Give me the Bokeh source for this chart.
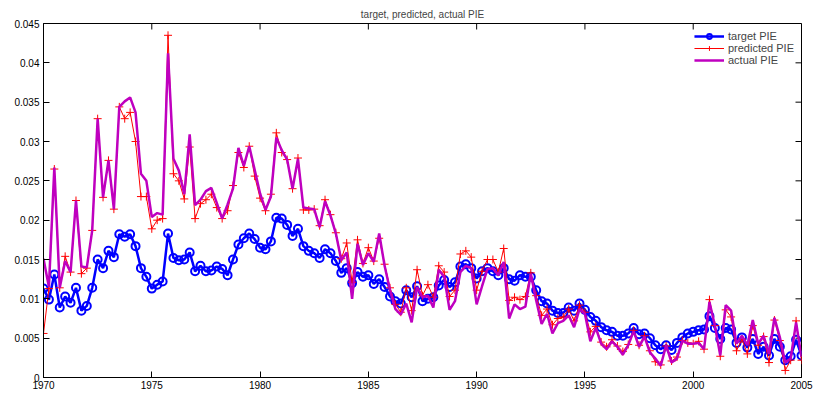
import numpy as np
from bokeh.plotting import figure
from bokeh.models import LinearAxis, FixedTicker, Legend, LegendItem, Range1d
from bokeh.embed import file_html
from bokeh.resources import INLINE

target_pie = [
    0.0113, 0.0099, 0.0131, 0.0089, 0.0103, 0.0095, 0.0114, 0.0085, 0.0091, 0.0114,
    0.0150, 0.0139, 0.0161, 0.0153, 0.0182, 0.0179, 0.0182, 0.0167, 0.0139, 0.0128,
    0.0113, 0.0118, 0.0122, 0.0183,
    0.0152, 0.0149, 0.0150, 0.0159, 0.0135, 0.0142, 0.0135, 0.0136, 0.0141, 0.0138,
    0.0130, 0.0150, 0.0169, 0.0177, 0.0183, 0.0176, 0.0165, 0.0163, 0.0173, 0.0203,
    0.0202, 0.0194, 0.0180, 0.0189, 0.0167, 0.0161, 0.0158, 0.0152, 0.0163, 0.0158,
    0.0148, 0.0133, 0.0139, 0.0120, 0.0134, 0.0128, 0.0130, 0.0119, 0.0125, 0.0115,
    0.0103, 0.0097, 0.0094, 0.0111, 0.0102, 0.0116, 0.0097, 0.0100, 0.0102, 0.0117,
    0.0124, 0.0115, 0.0121, 0.0141, 0.0144, 0.0139, 0.0126, 0.0135, 0.0139, 0.0135,
    0.0130, 0.0139, 0.0125, 0.0123, 0.0130, 0.0128, 0.0128, 0.0111, 0.0097, 0.0094,
    0.0085, 0.0082, 0.0082, 0.0089, 0.0085, 0.0094, 0.0086, 0.0077, 0.0072, 0.0064,
    0.0060,
    0.0058, 0.0053, 0.0053, 0.0056, 0.0063, 0.0055, 0.0056, 0.0050, 0.0041, 0.0036,
    0.0041, 0.0035, 0.0044, 0.0051, 0.0056,
    0.0058, 0.0060, 0.0061, 0.0078, 0.0063, 0.0049, 0.0063, 0.0061, 0.0044, 0.0051,
    0.0038, 0.0049, 0.0030, 0.0039, 0.0028, 0.0049, 0.0039, 0.0022, 0.0027, 0.0048,
    0.0028,
]

predicted_pie = [
    0.0056, 0.0113, 0.0265, 0.0114, 0.0154, 0.0134, 0.0225, 0.0132, 0.0139, 0.0187,
    0.0329, 0.0229, 0.0276, 0.0214, 0.0344, 0.0329, 0.0337, 0.0300, 0.0230, 0.0230,
    0.0189, 0.0200, 0.0202, 0.0435,
    0.0259, 0.0250, 0.0227, 0.0293, 0.0202, 0.0221, 0.0226, 0.0233, 0.0216, 0.0202,
    0.0212, 0.0244, 0.0286, 0.0267, 0.0294, 0.0256, 0.0228, 0.0212, 0.0233, 0.0311,
    0.0286, 0.0277, 0.0240, 0.0279, 0.0213, 0.0213, 0.0214, 0.0193, 0.0226, 0.0207,
    0.0184, 0.0151, 0.0171, 0.0121, 0.0175, 0.0145, 0.0165, 0.0148, 0.0177, 0.0144,
    0.0114, 0.0093, 0.0083, 0.0114, 0.0085, 0.0137, 0.0104, 0.0118, 0.0102, 0.0142,
    0.0134, 0.0103, 0.0111, 0.0157, 0.0161, 0.0153, 0.0111, 0.0135, 0.0150, 0.0150,
    0.0134, 0.0164, 0.0098, 0.0102, 0.0099, 0.0103, 0.0133, 0.0104, 0.0079, 0.0087,
    0.0067, 0.0075, 0.0077, 0.0087, 0.0072, 0.0092, 0.0083, 0.0058, 0.0065, 0.0045,
    0.0039,
    0.0048, 0.0040, 0.0033, 0.0042, 0.0060, 0.0041, 0.0053, 0.0034, 0.0020, 0.0016,
    0.0040, 0.0021, 0.0026, 0.0047, 0.0044,
    0.0043, 0.0046, 0.0036, 0.0099, 0.0066, 0.0027, 0.0086, 0.0077, 0.0034, 0.0049,
    0.0030, 0.0066, 0.0041, 0.0052, 0.0019, 0.0073, 0.0047, 0.0009, 0.0022, 0.0072,
    0.0022,
]

actual_pie = [
    0.0151, 0.0115, 0.0267, 0.0114, 0.0148, 0.0134, 0.0225, 0.0141, 0.0140, 0.0187,
    0.0329, 0.0229, 0.0276, 0.0214, 0.0344, 0.0351, 0.0356, 0.0337, 0.0259, 0.0250,
    0.0204, 0.0209, 0.0207, 0.0412,
    0.0278, 0.0263, 0.0233, 0.0309, 0.0219, 0.0226, 0.0237, 0.0241, 0.0222, 0.0202,
    0.0220, 0.0240, 0.0292, 0.0269, 0.0294, 0.0264, 0.0234, 0.0213, 0.0230, 0.0305,
    0.0289, 0.0277, 0.0240, 0.0278, 0.0216, 0.0215, 0.0214, 0.0191, 0.0224, 0.0206,
    0.0183, 0.0149, 0.0159, 0.0100, 0.0170, 0.0143, 0.0158, 0.0147, 0.0183, 0.0142,
    0.0111, 0.0087, 0.0080, 0.0094, 0.0070, 0.0115, 0.0102, 0.0104, 0.0089, 0.0137,
    0.0128, 0.0086, 0.0097, 0.0134, 0.0142, 0.0139, 0.0093, 0.0116, 0.0138, 0.0139,
    0.0130, 0.0147, 0.0075, 0.0093, 0.0087, 0.0090, 0.0132, 0.0098, 0.0068, 0.0081,
    0.0056, 0.0069, 0.0072, 0.0079, 0.0064, 0.0087, 0.0081, 0.0046, 0.0063, 0.0043,
    0.0036,
    0.0046, 0.0039, 0.0029, 0.0041, 0.0059, 0.0039, 0.0052, 0.0032, 0.0024, 0.0015,
    0.0041, 0.0019, 0.0024, 0.0047, 0.0043,
    0.0043, 0.0044, 0.0036, 0.0096, 0.0066, 0.0028, 0.0092, 0.0085, 0.0043, 0.0053,
    0.0041, 0.0073, 0.0043, 0.0053, 0.0030, 0.0076, 0.0051, 0.0019, 0.0024, 0.0070,
    0.0026,
]

start_year = 1970
quarters = np.arange(len(target_pie))
years = start_year + quarters / 4.0

x_ticks = [1970, 1975, 1980, 1985, 1990, 1995, 2000, 2005]
y_ticks = [0, 0.005, 0.01, 0.015, 0.02, 0.025, 0.03, 0.035, 0.04, 0.045]
y_tick_labels = ["0", "0.005", "0.01", "0.015", "0.02", "0.025", "0.03", "0.035", "0.04", "0.045"]

FONT = "Liberation Sans"
FS = "10px"

X0, X1 = 1970, 2005
Y0, Y1 = 0, 0.045
W, H = 817, 395
BL, BR, BT, BB = 43, 16, 23, 18
TICK = 6

p = figure(width=W, height=H, output_backend="svg", toolbar_location=None,
           x_range=Range1d(X0, X1), y_range=Range1d(Y0, Y1),
           min_border_left=BL, min_border_right=BR, min_border_top=BT, min_border_bottom=BB,
           x_axis_location=None, y_axis_location=None)
p.title.text = "target, predicted, actual PIE"
p.title.align = "center"
p.title.text_font = FONT
p.title.text_font_size = FS
p.title.text_font_style = "normal"
p.title.standoff = 7
p.grid.visible = False
p.outline_line_color = "black"
p.outline_line_width = 1
p.background_fill_color = "white"
p.border_fill_color = "white"

def make_axis(loc, ticks, labels=None, standoff=3):
    ax = LinearAxis(ticker=FixedTicker(ticks=ticks))
    ax.major_tick_in = TICK
    ax.major_tick_out = 0
    ax.minor_tick_in = 0
    ax.minor_tick_out = 0
    ax.axis_line_color = "black"
    ax.major_tick_line_color = "black"
    ax.major_label_text_font = FONT
    ax.major_label_text_font_size = FS
    ax.major_label_text_color = "black"
    ax.major_label_standoff = standoff
    if labels is not None:
        ax.major_label_overrides = {t: l for t, l in zip(ticks, labels)}
    p.add_layout(ax, loc)
    return ax

make_axis("below", x_ticks, standoff=3)
make_axis("left", y_ticks, y_tick_labels, standoff=4)

# mirrored inward ticks on top and right frame edges (MATLAB box style)
frame_w = W - BL - BR
frame_h = H - BT - BB
dy = (Y1 - Y0) * TICK / frame_h
dx = (X1 - X0) * TICK / frame_w
p.segment(x0=x_ticks, x1=x_ticks, y0=[Y1] * len(x_ticks), y1=[Y1 - dy] * len(x_ticks),
          line_color="black", line_width=1)
p.segment(x0=[X1] * len(y_ticks), x1=[X1 - dx] * len(y_ticks), y0=y_ticks, y1=y_ticks,
          line_color="black", line_width=1)

blue = "#0000FF"
red = "#FF0000"
mag = "#BF00BF"

r_t_line = p.line(years, target_pie, line_color=blue, line_width=2.5)
r_t_mark = p.scatter(years, target_pie, marker="circle", size=8, line_color=blue,
                     line_width=2, fill_color=None)
r_p_line = p.line(years, predicted_pie, line_color=red, line_width=1)
r_p_mark = p.scatter(years, predicted_pie, marker="cross", size=8, line_color=red, line_width=1)
r_a_line = p.line(years, actual_pie, line_color=mag, line_width=2.5)

legend = Legend(items=[
    LegendItem(label="target PIE", renderers=[r_t_line, r_t_mark]),
    LegendItem(label="predicted PIE", renderers=[r_p_line, r_p_mark]),
    LegendItem(label="actual PIE", renderers=[r_a_line]),
], location="top_right")
legend.border_line_color = None
legend.background_fill_color = "white"
legend.background_fill_alpha = 1
legend.label_text_font = FONT
legend.label_text_font_size = "11px"
legend.glyph_width = 30
legend.glyph_height = 12
legend.label_height = 12
legend.spacing = 0
legend.padding = 4
legend.margin = 7
legend.label_standoff = 4
p.add_layout(legend)

open("out.html", "w").write(file_html(p, INLINE))
